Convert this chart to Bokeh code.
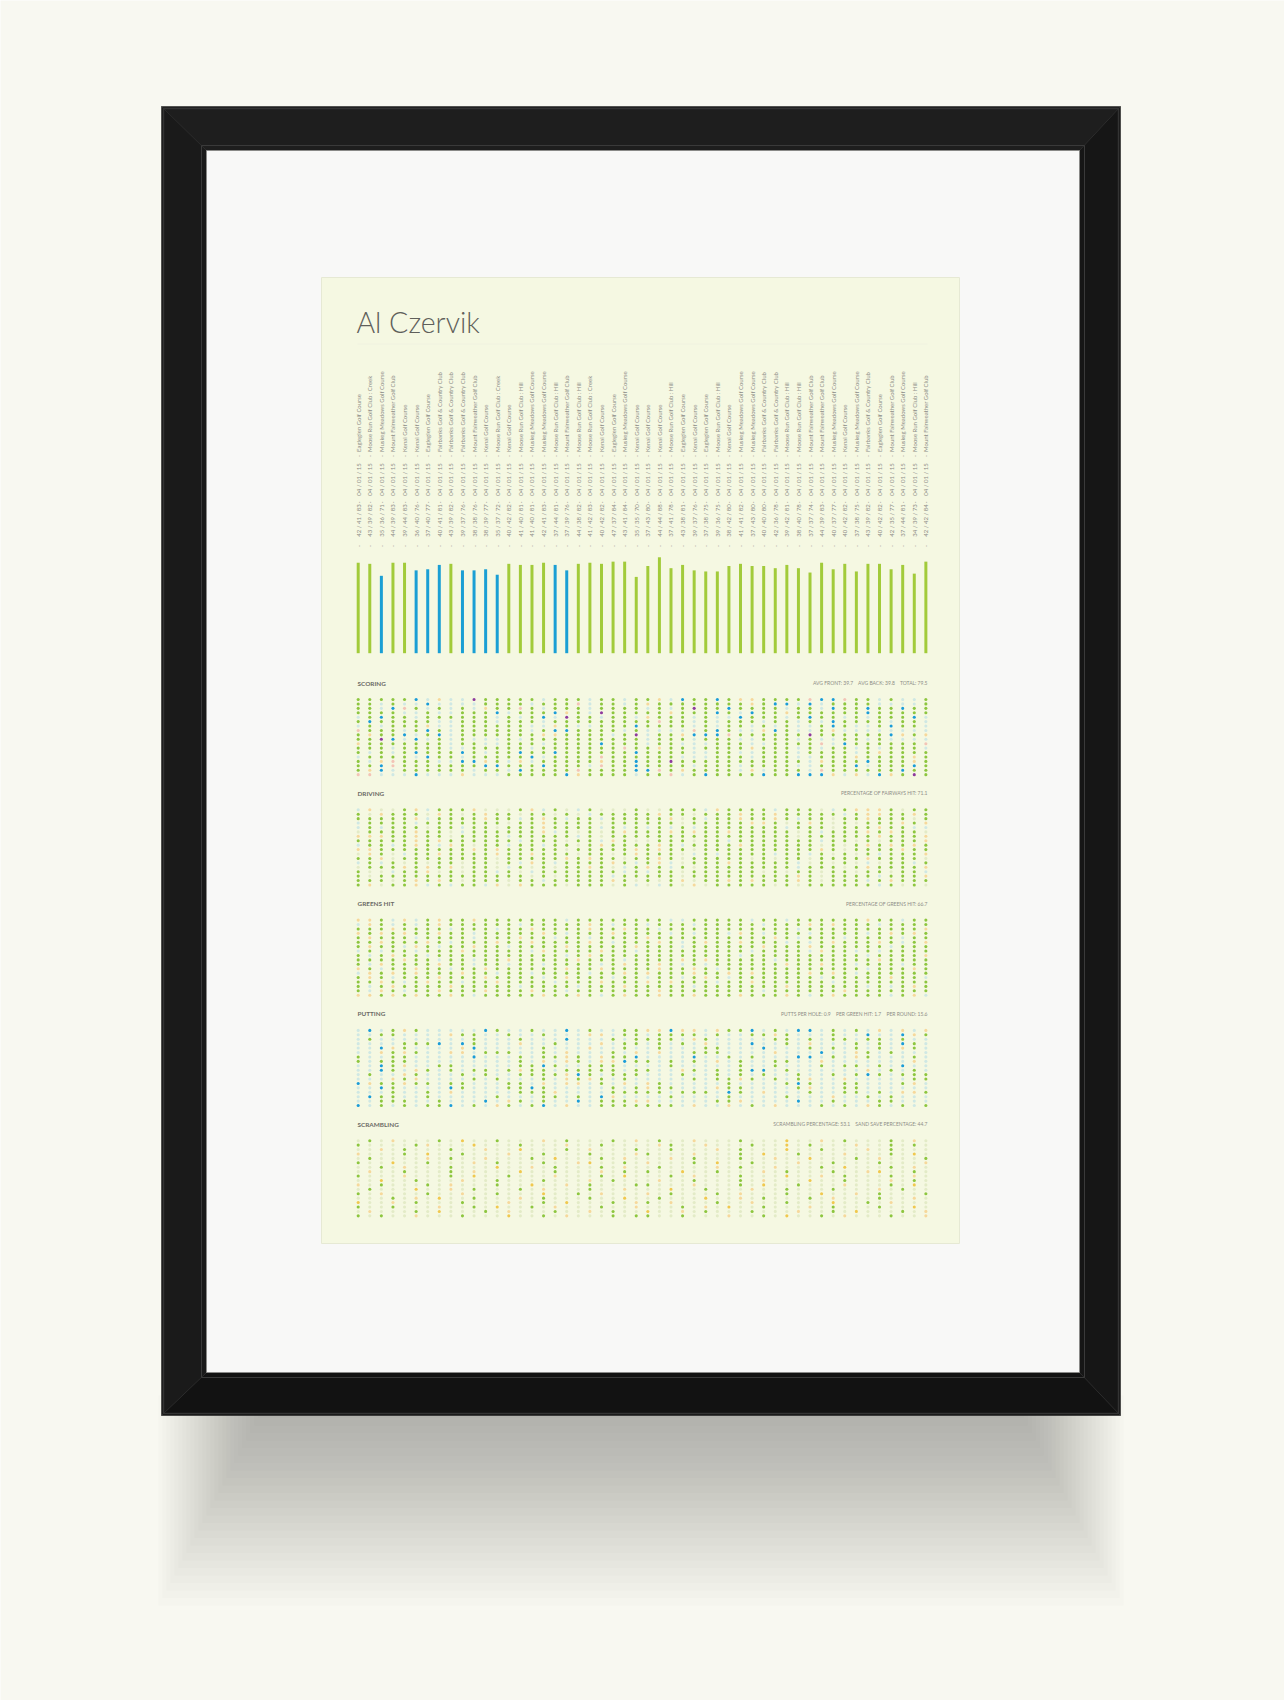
import math
from bokeh.plotting import figure
from bokeh.models import Range1d
from bokeh.core.properties import value
from bokeh.embed import file_html
from bokeh.resources import INLINE

# ---------------- data ----------------
player = "Al Czervik"
rounds = list(range(1, 51))
front9 = [42, 43, 35, 44, 39, 36, 37, 40, 43, 39, 38, 38, 35, 40, 41, 41, 42, 37, 37, 44,
          41, 40, 47, 43, 35, 37, 44, 37, 43, 39, 37, 39, 38, 41, 37, 40, 42, 39, 38, 37,
          44, 40, 40, 37, 43, 40, 42, 37, 34, 42]
back9 = [41, 39, 36, 39, 44, 40, 40, 41, 39, 37, 38, 39, 37, 42, 40, 40, 41, 44, 39, 38,
         42, 42, 37, 41, 35, 43, 44, 41, 38, 37, 38, 36, 42, 41, 43, 40, 36, 42, 40, 37,
         39, 37, 42, 38, 39, 42, 35, 44, 39, 42]
totals = [f + b for f, b in zip(front9, back9)]
dates = ["04 / 01 / 15"] * 50
courses = [
    "Eagleglen Golf Course", "Moose Run Golf Club : Creek", "Muskeg Meadows Golf Course",
    "Mount Fairweather Golf Club", "Kenai Golf Course", "Kenai Golf Course", "Eagleglen Golf Course",
    "Fairbanks Golf & Country Club", "Fairbanks Golf & Country Club", "Fairbanks Golf & Country Club",
    "Mount Fairweather Golf Club", "Kenai Golf Course", "Moose Run Golf Club : Creek", "Kenai Golf Course",
    "Moose Run Golf Club : Hill", "Muskeg Meadows Golf Course", "Muskeg Meadows Golf Course",
    "Moose Run Golf Club : Hill", "Mount Fairweather Golf Club", "Moose Run Golf Club : Hill",
    "Moose Run Golf Club : Creek", "Kenai Golf Course", "Eagleglen Golf Course", "Muskeg Meadows Golf Course",
    "Kenai Golf Course", "Kenai Golf Course", "Kenai Golf Course", "Moose Run Golf Club : Hill",
    "Eagleglen Golf Course", "Kenai Golf Course", "Eagleglen Golf Course", "Moose Run Golf Club : Hill",
    "Kenai Golf Course", "Muskeg Meadows Golf Course", "Muskeg Meadows Golf Course",
    "Fairbanks Golf & Country Club", "Fairbanks Golf & Country Club", "Moose Run Golf Club : Hill",
    "Moose Run Golf Club : Hill", "Mount Fairweather Golf Club", "Mount Fairweather Golf Club",
    "Muskeg Meadows Golf Course", "Kenai Golf Course", "Muskeg Meadows Golf Course",
    "Fairbanks Golf & Country Club", "Eagleglen Golf Course", "Mount Fairweather Golf Club",
    "Muskeg Meadows Golf Course", "Moose Run Golf Club : Hill", "Mount Fairweather Golf Club"]
# rounds drawn with the blue bar
highlight = [3, 6, 7, 8, 10, 11, 12, 13, 18, 19]

NB = "\u00a0"
section_titles = ["SCORING", "DRIVING", "GREENS HIT", "PUTTING", "SCRAMBLING"]
section_stats = [["AVG FRONT: 39.7", "AVG BACK: 39.8", "TOTAL: 79.5"],
                 ["PERCENTAGE OF FAIRWAYS HIT: 71.1"],
                 ["PERCENTAGE OF GREENS HIT: 66.7"],
                 ["PUTTS PER HOLE: 0.9", "PER GREEN HIT: 1.7", "PER ROUND: 15.6"],
                 ["SCRAMBLING PERCENTAGE: 53.1", "SAND SAVE PERCENTAGE: 44.7"]]

# hole-by-hole results, one string per hole (row), one character per round (column)
scoring = [
    "GGGGGBcoccPGGGGGcGGGcGGcG" + "GocBGGBGooGGGGpBBpGGcGccG",
    "GGcGccBccccGGGGcGGGpcGGcG" + "oGGGGGGGGoGBBcBcGGGGccccG",
    "GGcBpGcGcGcoGGpGcGGGcGGGG" + "cGcGPGGBGGGGcGGcBGGBGGBGG",
    "GGGGccGccGGGBcGGGBoGcPGGG" + "GGoGGGBGcBGGoGGGGGGBGGGGG",
    "cGBGGcGGGGGGcGcGBcPGGcGGc" + "oGGGcGccBGGGcGBGGcGcGGGBc",
    "GBGGGGGccGGGcGGGcGGGGGGGG" + "GpGGcGcGGGcGGcGcBGGGGcGGc",
    "cGcGGGoccGGGGGGccoGccGGGB" + "GGGGcGcGGcGcGccGBGccGBGGc",
    "pGGGcGBGcGGGGGGcGBBGGGGcG" + "ccccpGBGccoBGccGocccccccc",
    "GoGGBcGBcGGGGGGGooGGGGcGP" + "cGGoBBBpGGGGGGPGGGGGGBoGo",
    "GGPBcBcGcGcccGcGGGGGGGGGG" + "cGGGcGGGccGGGcGccGGcGcccc",
    "oGGGGGGGcGGccGGGcGGGGBGGG" + "cGGcccGGGccGGGGpcBGGGGGGp",
    "GGGcGGGGccGGGGGcGGGGGGGpG" + "GoGGcGGGGoGGGcGcGGcGcGGGc",
    "GcGcGBGGGBGcGGBGGBGGGGGGB" + "GGGGccGGccGGGcGGGGcGoGGGG",
    "cGGGGcBGGcGGGGGBcGGGGpGGG" + "GGGcccGGGcGGGccGGGoGGGGoG",
    "GcopGGGccBBoGcocGGGGGoGGB" + "GGPGGGGGGGGGGGcoGGGBGGGoG",
    "GGBpGGGGGGGBBGGGBGGGcpGGB" + "GGGGcGGGcGGGGccGGGBcGGGBG",
    "GoBcGGGGGGcGGcBGGGGpGGGGB" + "BpGoGGGGcocGGGcpGGGGGGBGG",
    "ppcccBcccocccGGGGGBoGGGGc" + "GGpcGBGGGGBGGBBBococBoGPG",
]
driving = [
    "collGocGGGolllGocGlcGlllG" + "llGGGcoGGGGcGGGlcGoooGlGG",
    "GloGGGloGlGoGGlGGlGlcGGGG" + "GoGGlGGGoGGoGGGGGcGooGGoG",
    "GGGGGocGGGGoGGcGoGcGGcGGG" + "GGolGcGGoGGoGcGGlGGoGGGlG",
    "cGGGGcGGGGGGGlGGoGGGGlGGG" + "GGGlGGGGGooGlGoGlGlGGGoGo",
    "cGcGGGlGGcGGlGGGoGGGGcGcG" + "cGcGcGGGGGGGcGGGlGGGoGGcc",
    "lGGGGoGGlcGGGGGGocGlGlGoG" + "GGoGoGGoGGGGGlGcGGGoGoGGl",
    "oooGGoGGlGGGGcGGGGGcGlGGG" + "GGGGGGGGGGGGGlGGGGGGoGGGo",
    "GGGGGoGoGGGGGGcGGGlGGcoGl" + "lGGGlGGcGGGGGGGcGGlGlGGGo",
    "cGGcGoGcoGlGGcGGcGGlGoGGG" + "GoGcGGGGoGGGGGGlGlGoGoGoG",
    "ooGGGGGGGGoGoGGGGGlGGGGGo" + "GoGGlGGGGGGGGGGoGlGGGGoGG",
    "loGlcGGoGGGGoGGoGGGlGGlGo" + "GGGlcGcGGGGcGGcGlGlGcGGGo",
    "GGolGGGGGGGGlGGGGGoGoGGlG" + "GoGlGGGGGlGlGGlGGGGoGGGGl",
    "cGcGlGlGGlGGlGcoGcGGGGoGc" + "GoclGGGoGGGGGclGlGlclGGcG",
    "lGGGoGoGolGGlcGlGlGGoGlcG" + "oGcGlGGGGGGGGcGGGlGoGGGGo",
    "GllcGGolGlGGcGlcGGGGGGGcG" + "cGGlGGGGGGlGlGGlGGlGGlGGc",
    "GlGGGGGGGGGGGGGlGlGGGGcGG" + "GGGlGGGGGGGGGoGlGGGGcGGGo",
    "GGGlGoGoGlGGGlGGcGGGGGoGl" + "GlGolGGoGoGGGoGlGGGcGoGGG",
    "GolGGocGcGGcoloGGGlGGGlGc" + "lcGlolGGGGGlGlGGGGGGcGlGl",
]
greens = [
    "ooGcocGoGGoGGGGGGGcGGGGGG" + "GGccGGGGGcGGcGGGGGGoGGcGG",
    "coGcGcGoGGGGGGcGGGGGoGcGG" + "cGGGcGGGGGcGGGoGoGGGcGGGG",
    "GGGoGGGGcGGGcGGoGGGGoGGoG" + "GcGGGGGGGGGGGcGGGGGGGGGGo",
    "oGoGoGGoGGcGGGGGoGcGGGoGG" + "GGcGcGGcoGcGGGcGGGGcGoGoG",
    "GoGGGcGGGGcGGGoGGcGGcGGGG" + "oGGGGGGGGGGoGcGGGcGGGGcGG",
    "GGoGGGoGcGGGoGGoGGGGoGcGG" + "GoGcGoGGoGGGcGcGoGGGoGcGo",
    "GoGGcoGcGGoGGcGGGGoGGGGGo" + "GGGcGGGGGGoGGGoGGGGGGcGGG",
    "cGcGGcGGGoGGGGGcoGGGGoGGc" + "GGGGGGGGGcGGGGcoGGcGcGGGG",
    "GcGoGGcGGGGGGGGGGGcGoGGGG" + "GGGGGGGGcGGGGGGGGGGcGGGGo",
    "GGGGoGGcGGcGGoGGGGGoGGGcG" + "GGGoGoGGGGGcGGGGGGGGoGGGG",
    "GcoGGGGoGGcGGcGGcGGGGcGoG" + "GoGcGcGGGGGGoGGoGGcGGGcGG",
    "oGcGGoGGcGGoGGGGGGoGGoGGG" + "GoGGoGcGGGGGGGGGGGGcGGGoG",
    "coGoGoGGGoGGcGGcGGGGcGGoG" + "oGGGoGGoGoGGGGoGoGcGGGGGG",
    "GoGcGGGoGGGoGGGGcGoGGGcGG" + "cGGcGoGcGGGGGGGcGGGGGoGGc",
    "GGoGcGoGGcGGoGGGGcGGGoGGG" + "oGoGGGcGGoGGGGGGcGGGGGGGG",
    "GcGoGGGGoGGGGGcGGGGcGGGoG" + "GGGGcGGGGGGGoGGGGGGcGcGoG",
    "GcoGcGGoGGGoGGGoGGcGGGGGG" + "GoGGGGGGGGcGGGGGGoGGGGGGG",
    "ooGoGoGGoGcGGGGGoGGoGcGoG" + "GoGGoGGGoGGGoGcGoGGGGcGoc",
]
putting = [
    "cBcGoGcccccBGccGccBcGccGG" + "ooBoocoGGBcGcBBcGcGcococo",
    "ccGGccccoGGccGccGcccoocGG" + "cGGGGcGccGGoGcccGccBccBoG",
    "cGccccccccGcccGcccBcccGcG" + "GGGcoGcccccGGcGcGGcGGcGcc",
    "ccccGGGBcBGcccoccGcccocGG" + "cGcGcocccBccGcocccGcGcBGc",
    "ccBoGccccoBcccccGcccoccGc" + "cGcccGGcccBcccGcGcGcGcoGc",
    "ccoGoGccoocGGGccGcocccGco" + "coccGGGccccocccBccoGcGccc",
    "GccGGcccccBcccGcGGoGcoGGB" + "ccccBccGcGcccBBcGcoGcccGc",
    "GcGGGcccccccccGcocoGcooBG" + "GcGcGcocGccGGccocccccccoc",
    "ccBGoccGGcccccGGBGccGGGcc" + "ccGcccccGccGcccGcGGcGcBcc",
    "ccBGcoGcGcGGcGoGGcGGGGGcG" + "GccoGcGcGBBcGccccccocGcGc",
    "cGccoGcccGcGccGGGGoBGcGGG" + "cccGccGcGcGccGccGcGBGcGGG",
    "cccoGoccccGcGcccGcoGoGcGc" + "ccccGcGGoGcGcGoccocccccGG",
    "BoGGoGGcGGcccGGcocoocGcoc" + "oGcccccGccccGBGccGGcccGoc",
    "ccBGccccBGcccGGBGcccccGcG" + "oGGcccoGGccccGoccGGcccccc",
    "cccGccGcocccccGGGoccccGGG" + "GGcGGGcBGcocccGccGGcGcooG",
    "cBGGccGcccccGcccGGcGcBocc" + "ccGccccGccccGcccoccGcGccc",
    "ccGGGccGcccBcoGcGccBcGGGo" + "occcccGGoccccBccGcccGGccc",
    "BcGcGcGGBcGcoGcGBcoccGGGG" + "GGGcoccocGcocccGcGcoGcGcG",
]
scrambling = [
    "lGlolllGlyllGlllolGlllGlo" + "lGllolllGlllyllolGlllGlol",
    "GllllGolllylllGlllollGll" + "lloGllolllGllylGlllollGlGl",
    "llolGlllGllollylllGlolllG" + "llGlllolGlllyllGlllolGlll",
    "olllGlyllGlllollGlllGlllo" + "GlllolllGlyllGlllolllGlyl",
    "lGllllolGllolllGlylllGlol" + "llolGlllGllollylllGlolllG",
    "GllyllGlllolGlllGlloyllGl" + "olllGlyllGlllollGlllGlllo",
    "llGlolllGlllyllolGlllGlol" + "lGllllolGllolllGlylllGlol",
    "lollGlllGlolllyllGlllolGl" + "GllyllGlllolGlllGlloyllGl",
    "GlllolllGlyllGlllolllGlyl" + "llGlolllGlllyllolGlllGlol",
    "llyllGlllollGlllGlllolGll" + "lollGlllGlolllyllGlllolGl",
    "olGlllGlolllGllyllolGlllG" + "GlllolllGlyllGlllolllGlyl",
    "lGlllyllolGlllGlolllGllol" + "llyllGlllollGlllGlllolGll",
    "GlolllGllollGlllyllGlolll" + "olGlllGlolllGllyllolGlllG",
    "lllGlolyllGlllolGlllGllyl" + "lGlllyllolGlllGlolllGllol",
    "yllolGlllGlllollGlylllGlo" + "GlolllGllollGlllyllGlolll",
    "GllGlllollGlyllGlolllGllo" + "lllGlolyllGlllolGlllGllyl",
    "lolllGlylllGlolllGllolGll" + "yllolGlllGlllollGlylllGlo",
    "GlGllolllGlllyllGlolllGlG" + "GllGlllollGlyllGlolllGllo",
]
sections = [scoring, driving, greens, putting, scrambling]

# ---------------- style ----------------
BG = "#f8f8f1"
POSTER = "#f5f8e2"
MAT = "#f8f8f7"
TEXT = "#6b6b66"
LABEL = "#8d8d86"
BAR_GREEN = "#a2cb3a"
BAR_BLUE = "#1a9fd4"
DOT = {"G": "#8dc63f", "c": "#cfe8e4", "B": "#1a9cd8", "P": "#8e3a9d",
       "o": "#f6d89b", "p": "#f3c4b6", "l": "#e3ebc7", "y": "#f0c84e"}

W, H = 1284, 1700
# layout (pixels)
COL0, COLDX = 357.7, 11.585
BASE_Y, PX_PER_STROKE = 652.7, 1.09
SEC0, SECDY, ROWDY = 699.0, 110.3, 4.42
LEFT_X, RIGHT_X = 357.0, 927.0

p = figure(width=W, height=H, x_range=Range1d(0, W), y_range=Range1d(H, 0),
           output_backend="svg", toolbar_location=None, min_border=0,
           x_axis_location=None, y_axis_location=None)
p.grid.visible = False
p.outline_line_color = None
p.background_fill_color = BG
p.border_fill_color = BG

# data ranges mapped onto the poster area
c_start = 1 - COL0 / COLDX
p.extra_x_ranges = {"col": Range1d(c_start, c_start + W / COLDX)}
yr = {"score": Range1d(-(H - BASE_Y) / PX_PER_STROKE, BASE_Y / PX_PER_STROKE)}
for k in range(5):
    first = SEC0 + k * SECDY
    yr[f"sec{k}"] = Range1d(1 + (H - first) / ROWDY, 1 - first / ROWDY)
p.extra_y_ranges = yr

# ---------------- shadow, frame, mat, poster ----------------
ox0, oy0, ox1, oy1 = 161, 106, 1120, 1415
ix0, iy0, ix1, iy1 = 206, 150, 1079, 1372
NS = 26
for k in range(NS):
    p.quad(left=[158 + 4 * k], right=[1123 - 4 * k], top=[1395], bottom=[1605 - 7.5 * k],
           fill_color="#4a4a4a", fill_alpha=0.016, line_color=None)
p.quad(left=[ox0], right=[ox1], top=[oy0], bottom=[oy1], fill_color="#181818", line_color=None)
p.patch([ox0, ox1, ix1, ix0], [oy0, oy0, iy0, iy0], fill_color="#1e1e1e", line_color=None)
p.patch([ox0, ix0, ix0, ox0], [oy0, iy0, iy1, oy1], fill_color="#1a1a1a", line_color=None)
p.patch([ox1, ix1, ix1, ox1], [oy0, iy0, iy1, oy1], fill_color="#161616", line_color=None)
p.patch([ox0, ix0, ix1, ox1], [oy1, iy1, iy1, oy1], fill_color="#121212", line_color=None)
p.segment(x0=[ox0, ox1, ox0, ox1], y0=[oy0, oy0, oy1, oy1], x1=[ix0, ix1, ix0, ix1],
          y1=[iy0, iy0, iy1, iy1], line_color="#2c2c2c", line_width=1)
p.quad(left=[ox0 + 2], right=[ox1 - 2], top=[oy0 + 2], bottom=[oy1 - 2],
       fill_color=None, line_color="#333333", line_width=1.5)
p.quad(left=[ix0 - 5], right=[ix1 + 5], top=[iy0 - 5], bottom=[iy1 + 5],
       fill_color=None, line_color="#3a3a3a", line_width=1)
p.quad(left=[ix0], right=[ix1], top=[iy0], bottom=[iy1], fill_color=MAT, line_color="#8a8a88",
       line_width=1)
p.quad(left=[321], right=[959], top=[277], bottom=[1243], fill_color=POSTER, line_color="#e6e9d4")

# ---------------- title ----------------
p.text(x=[LEFT_X - 1], y=[321], text=[player], text_font=value("Lato Light"),
       text_font_size="28.5px", text_color="#5f5f5a", text_baseline="alphabetic")
p.segment(x0=[LEFT_X], x1=[RIGHT_X], y0=[343.5], y1=[343.5], line_color="#f0f2e0", line_width=1)

# ---------------- round labels (rotated, reading upward) ----------------
score_txt = [f"{f} / {b} / {t}" for f, b, t in zip(front9, back9, totals)]
lab_font = dict(text_font=value("Lato"), text_font_size="6px", text_color=LABEL,
                x_range_name="col", angle=math.pi / 2, text_baseline="middle")
for yy in (545.5, 501.7, 455.5):
    p.text(x=rounds, y=[yy] * 50, text=["\u00b7"] * 50, text_align="center", **lab_font)
p.text(x=rounds, y=[520] * 50, text=score_txt, text_align="center", **lab_font)
p.text(x=rounds, y=[479] * 50, text=dates, text_align="center", **lab_font)
p.text(x=rounds, y=[451.5] * 50, text=courses, text_align="left", **lab_font)

# ---------------- score bars ----------------
bar_colors = [BAR_BLUE if r in highlight else BAR_GREEN for r in rounds]
p.vbar(x=rounds, top=totals, bottom=0, width=3.0 / COLDX, fill_color=bar_colors,
       line_color=None, x_range_name="col", y_range_name="score")

# ---------------- dot sections ----------------
for k, (rows, title, stat) in enumerate(zip(sections, section_titles, section_stats)):
    xs, ys, cs = [], [], []
    for hole, row in enumerate(rows, start=1):
        for rnd, ch in zip(rounds, row):
            xs.append(rnd)
            ys.append(hole)
            cs.append(DOT[ch])
    p.scatter(x=xs, y=ys, size=3.1, fill_color=cs, line_color=None,
              x_range_name="col", y_range_name=f"sec{k}")
    hy = SEC0 + k * SECDY - 16.5
    p.text(x=[LEFT_X], y=[hy], text=[title], text_font=value("Lato"), text_font_style="bold",
           text_font_size="6.4px", text_color=TEXT, text_baseline="middle")
    stat_txt = (NB * 4).join(s.replace(" ", NB) for s in stat)
    p.text(x=[RIGHT_X], y=[hy], text=[stat_txt], text_font=value("Lato"),
           text_font_size="5.0px", text_color=LABEL, text_baseline="middle", text_align="right")

open("out.html", "w").write(file_html(p, INLINE))
